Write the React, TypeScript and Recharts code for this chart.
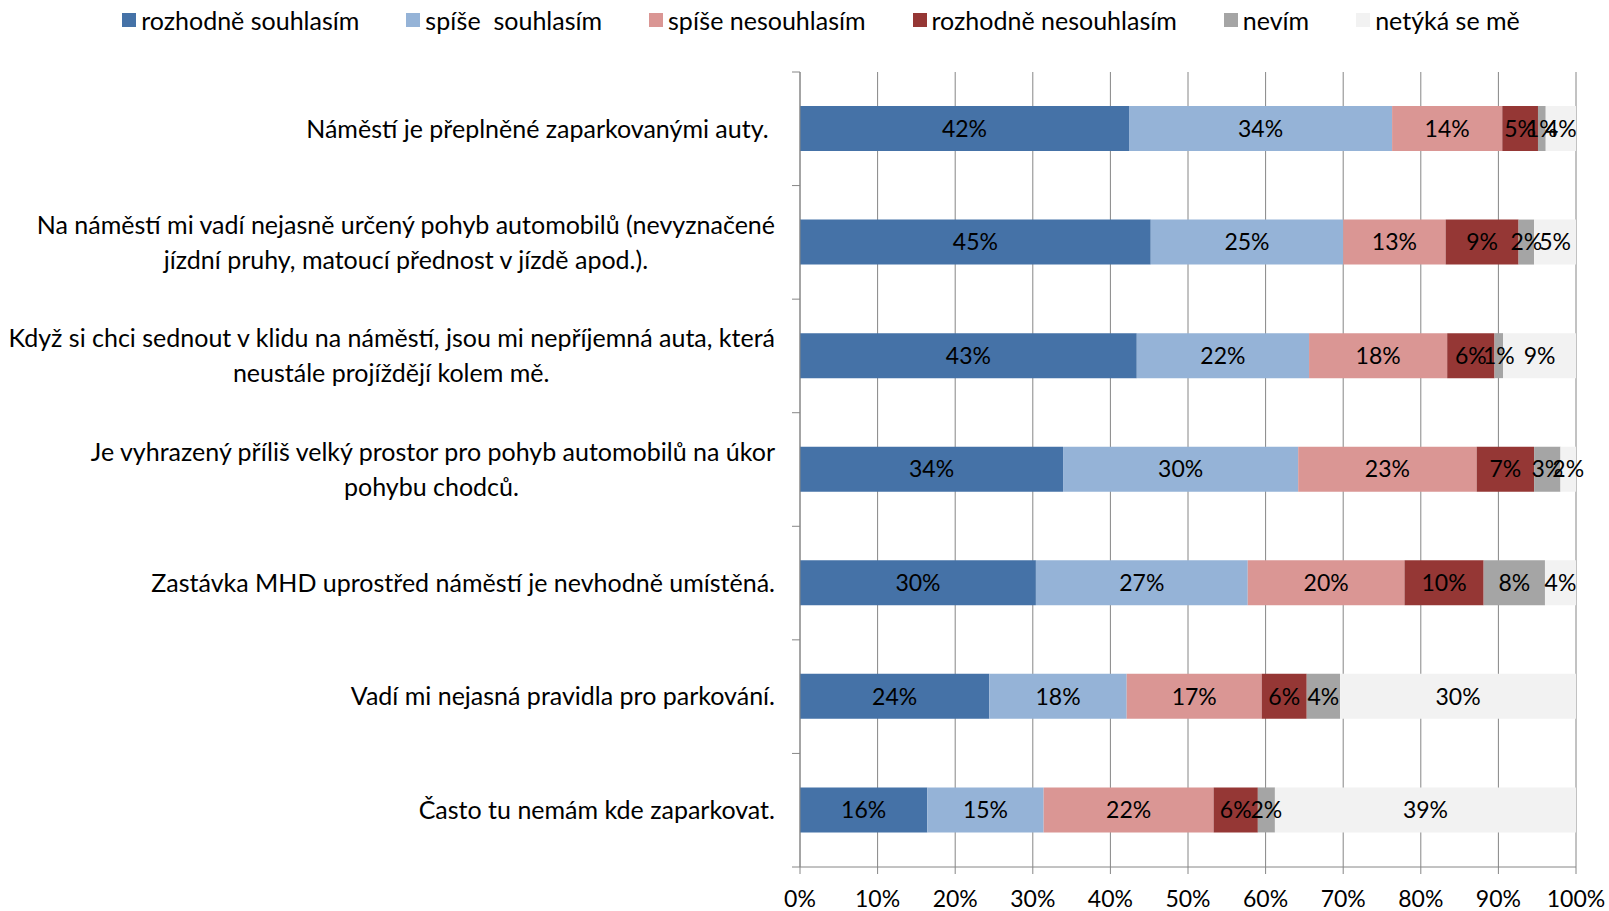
import React from 'react';
import { BarChart, Bar, XAxis, YAxis, CartesianGrid, Legend, LabelList } from 'recharts';

const categories = [
  'Náměstí je přeplněné zaparkovanými auty. ',
  'Na náměstí mi vadí nejasně určený pohyb automobilů (nevyznačené\njízdní pruhy, matoucí přednost v jízdě apod.).',
  'Když si chci sednout v klidu na náměstí, jsou mi nepříjemná auta, která\nneustále projíždějí kolem mě.',
  'Je vyhrazený příliš velký prostor pro pohyb automobilů na úkor\npohybu chodců.',
  'Zastávka MHD uprostřed náměstí je nevhodně umístěná.',
  'Vadí mi nejasná pravidla pro parkování.',
  'Často tu nemám kde zaparkovat.',
];

const rozhodneSouhlasim = [42.4, 45.2, 43.4, 33.9, 30.4, 24.4, 16.4];
const spiseSouhlasim = [33.9, 24.8, 22.2, 30.3, 27.3, 17.7, 15.0];
const spiseNesouhlasim = [14.2, 13.2, 17.8, 23.0, 20.2, 17.4, 21.9];
const rozhodneNesouhlasim = [4.6, 9.4, 6.1, 7.4, 10.2, 5.8, 5.7];
const nevim = [1.0, 2.0, 1.1, 3.4, 7.9, 4.3, 2.2];
const netykaSeMe = [3.9, 5.4, 9.4, 2.0, 4.0, 30.4, 38.8];

const xTicks = [0, 10, 20, 30, 40, 50, 60, 70, 80, 90, 100];

const series = [
  { key: 's0', name: 'rozhodně souhlasím', color: '#4572A7', values: rozhodneSouhlasim },
  { key: 's1', name: 'spíše  souhlasím', color: '#95B3D7', values: spiseSouhlasim },
  { key: 's2', name: 'spíše nesouhlasím', color: '#DA9694', values: spiseNesouhlasim },
  { key: 's3', name: 'rozhodně nesouhlasím', color: '#953735', values: rozhodneNesouhlasim },
  { key: 's4', name: 'nevím', color: '#A5A5A5', values: nevim },
  { key: 's5', name: 'netýká se mě', color: '#F2F2F2', values: netykaSeMe },
];

const data = categories.map((name, i) => {
  const row: Record<string, string | number> = { name };
  series.forEach((s) => { row[s.key] = s.values[i]; });
  return row;
});

const W = 1609;
const H = 911;
const FONT = 'Lato';
const FS = 23; // numbers
const FS_TEXT = 25; // category labels and legend
const AXIS = '#868686';
const PLOT_LEFT = 800;
const LEGEND_H = 72;
const X_AXIS_H = 44;
const BAND = (H - LEGEND_H - X_AXIS_H) / categories.length;
const LINE_H = 35;

let ctx: CanvasRenderingContext2D | null = null;
const measure = (t: string) => {
  if (!ctx) {
    ctx = document.createElement('canvas').getContext('2d');
  }
  if (!ctx) return t.length * 12;
  ctx.font = `${FS_TEXT}px ${FONT}`;
  return ctx.measureText(t).width;
};

const CategoryTick = (props: any) => {
  const { y, payload, index } = props;
  const lines = String(payload.value).split('\n');
  const widths = lines.map(measure);
  const blockW = Math.max(...widths);
  const right = PLOT_LEFT - 25;
  const half = BAND / 2;
  return (
    <g>
      <line x1={PLOT_LEFT - 8} x2={PLOT_LEFT} y1={y - half} y2={y - half} stroke={AXIS} />
      {index === categories.length - 1 && (
        <line x1={PLOT_LEFT - 8} x2={PLOT_LEFT} y1={y + half} y2={y + half} stroke={AXIS} />
      )}
      <text fontFamily={FONT} fontSize={FS_TEXT} fill="#000" textAnchor="end" style={{ whiteSpace: 'pre' }}>
        {lines.map((l, i) => (
          <tspan key={i} x={right - (blockW - widths[i]) / 2} y={y + (i - (lines.length - 1) / 2) * LINE_H} dy="0.35em">
            {l}
          </tspan>
        ))}
      </text>
    </g>
  );
};

const renderLegend = () => (
  <div
    style={{
      display: 'flex',
      justifyContent: 'center',
      alignItems: 'flex-start',
      boxSizing: 'border-box',
      height: LEGEND_H,
      paddingTop: 7,
      paddingLeft: 80,
      fontFamily: FONT,
      fontSize: FS_TEXT,
      lineHeight: '26px',
      color: '#000',
    }}
  >
    {series.map((s) => (
      <div key={s.key} style={{ display: 'flex', alignItems: 'center', height: 26, marginRight: 47, whiteSpace: 'pre' }}>
        <span style={{ display: 'inline-block', width: 14, height: 14, background: s.color, marginRight: 5 }} />
        {s.name}
      </div>
    ))}
  </div>
);

export default function App() {
  return (
    <div style={{ position: 'fixed', left: 0, top: 0, width: W, height: H, background: '#fff' }}>
      <BarChart width={W} height={H} data={data} layout="vertical" margin={{ top: 0, right: 33, bottom: 0, left: 0 }}>
        <CartesianGrid horizontal={false} stroke={AXIS} />
        <XAxis
          type="number"
          domain={[0, 100]}
          ticks={xTicks}
          tickFormatter={(v) => `${v}%`}
          height={X_AXIS_H}
          axisLine={{ stroke: AXIS }}
          tickLine={{ stroke: AXIS }}
          tickSize={7}
          tickMargin={17}
          tick={{ fill: '#000', fontSize: FS, fontFamily: FONT }}
          allowDataOverflow
        />
        <YAxis
          type="category"
          dataKey="name"
          width={PLOT_LEFT}
          axisLine={{ stroke: AXIS }}
          tickLine={false}
          tickSize={0}
          tick={<CategoryTick />}
          interval={0}
        />
        <Legend verticalAlign="top" content={renderLegend} wrapperStyle={{ left: 0, top: 0, width: W }} />
        {series.map((s) => (
          <Bar key={s.key} dataKey={s.key} name={s.name} stackId="a" fill={s.color} barSize={45} isAnimationActive={false}>
            <LabelList
              dataKey={s.key}
              position="center"
              formatter={(v: any) => `${Math.round(Number(v))}%`}
              fill="#000"
              fontSize={FS}
              fontFamily={FONT}
            />
          </Bar>
        ))}
      </BarChart>
    </div>
  );
}
